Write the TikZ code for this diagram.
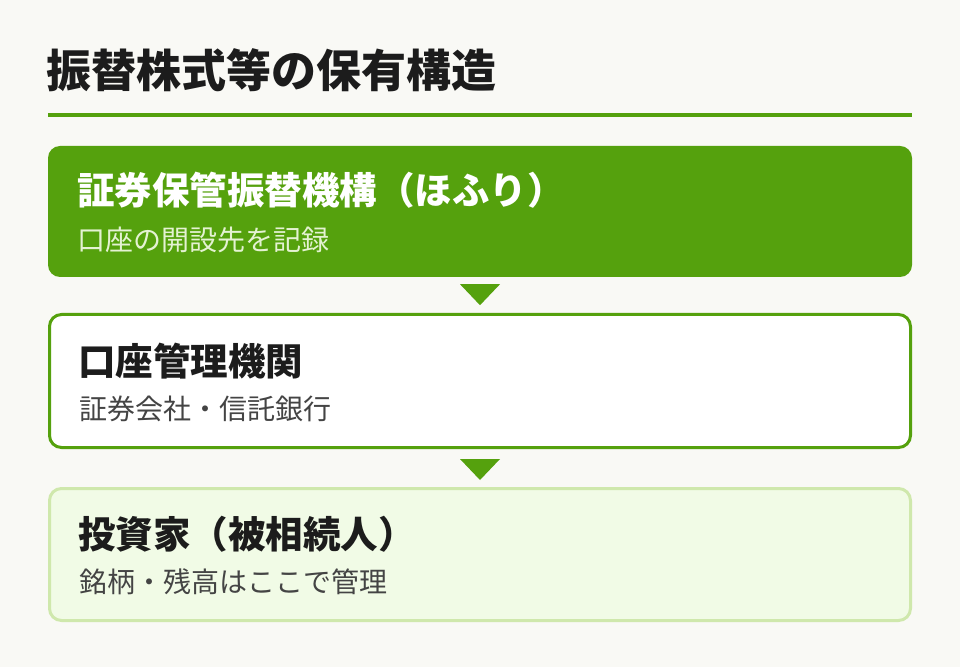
\documentclass[tikz,border=0pt]{standalone}
\usepackage{fontspec}
\setmainfont{Noto Sans CJK JP}[BoldFont={Noto Sans CJK JP Black}]
\usepackage{tikz}
\usetikzlibrary{positioning}
\definecolor{bgpaper}{HTML}{F9F9F5}
\definecolor{hofgreen}{HTML}{55A10D}
\definecolor{paleline}{HTML}{CFE8AC}
\definecolor{palefill}{HTML}{F1FBE6}
\definecolor{inkdark}{HTML}{1C1C1C}
\definecolor{inkgray}{HTML}{444444}
\definecolor{inklight}{HTML}{E4F2D2}

\begin{document}
\begin{tikzpicture}[x=1pt,y=1pt,
		box/.style={rounded corners=12pt,minimum width=861pt,inner sep=0pt},
		head/.style={anchor=west,inner sep=0pt,font=\fontsize{37.5pt}{40pt}\selectfont\bfseries},
		sub/.style={anchor=west,inner sep=0pt,font=\fontsize{28pt}{32pt}\selectfont}]
			
			\fill[bgpaper] (0,0) rectangle (960,667);
			\useasboundingbox (0,0) rectangle (960,667);
			
			\node[anchor=west,inner sep=0pt,inkdark,font=\fontsize{45pt}{48pt}\selectfont\bfseries] (TT) at (46,597) {振替株式等の保有構造};
			\fill[hofgreen] (48,550) rectangle (912,554);
			
			\node[box,fill=hofgreen,minimum width=864pt,minimum height=131pt] (B1) at (480,455.5) {};
			\node[head,white] (H1) at (77,477) {証券保管振替機構（ほふり）};
			\node[sub,inklight] (S1) at (77,427) {口座の開設先を記録};
			
			\node[box,draw=hofgreen,line width=3pt,fill=white,minimum height=133pt] (B2) at (480,286) {};
			\node[head,inkdark] (H2) at (78,306) {口座管理機関};
			\node[sub,inkgray] (S2) at (79,258) {証券会社・信託銀行};
			
			\node[box,draw=paleline,line width=3pt,fill=palefill,minimum height=132pt] (B3) at (480,112.5) {};
			\node[head,inkdark] (H3) at (78,133) {投資家（被相続人）};
			\node[sub,inkgray] (S3) at (79,85) {銘柄・残高はここで管理};
			
			\fill[hofgreen] ([xshift=-20pt,yshift=-7pt]B1.south) -- ([xshift=20pt,yshift=-7pt]B1.south) -- ([yshift=-28pt]B1.south) -- cycle;
			\fill[hofgreen] ([xshift=-20pt,yshift=-10pt]B2.south) -- ([xshift=20pt,yshift=-10pt]B2.south) -- ([yshift=-31pt]B2.south) -- cycle;
			
		\end{tikzpicture}
\end{document}
